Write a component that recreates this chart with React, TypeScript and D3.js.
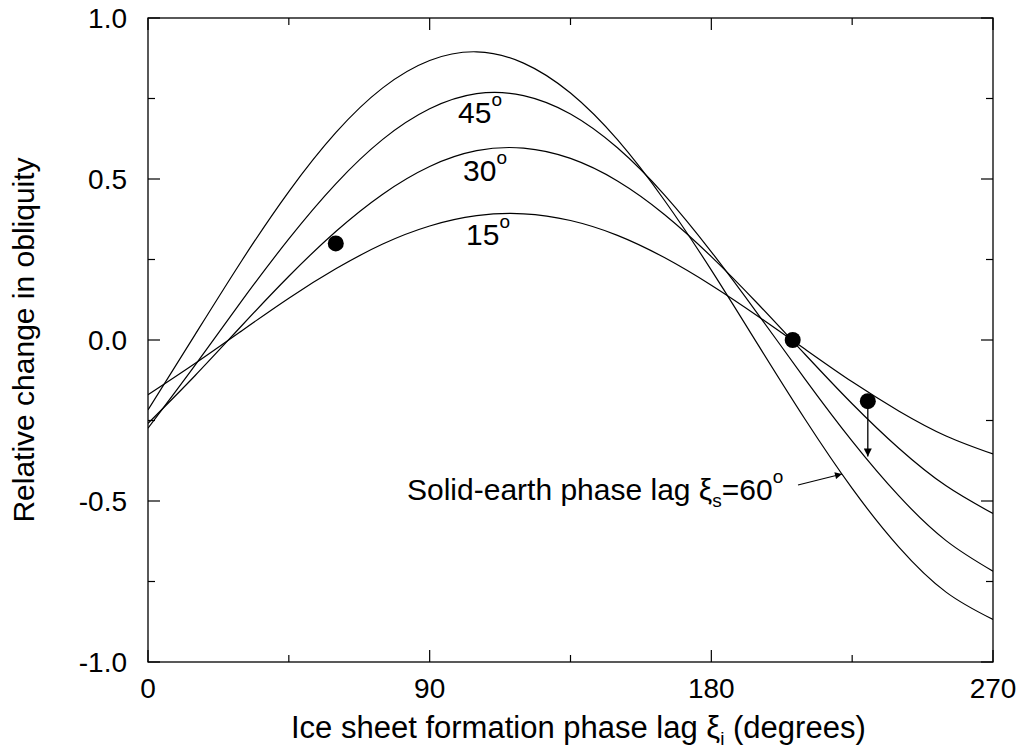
import React from "react";
import * as d3 from "d3";

// ---- data ----
const phaseLag = [0, 15, 30, 45, 60, 75, 90, 105, 120, 135, 150, 165, 180, 195, 210, 225, 240, 255, 270];
const lag15 = [-0.170, -0.073, 0.029, 0.130, 0.221, 0.298, 0.354, 0.386, 0.392, 0.371, 0.325, 0.256, 0.170, 0.073, -0.029, -0.130, -0.221, -0.298, -0.354];
const lag30 = [-0.259, -0.111, 0.045, 0.198, 0.337, 0.453, 0.539, 0.588, 0.596, 0.564, 0.494, 0.390, 0.259, 0.111, -0.045, -0.198, -0.337, -0.453, -0.539];
const lag45 = [-0.274, -0.079, 0.122, 0.314, 0.485, 0.623, 0.718, 0.765, 0.759, 0.702, 0.597, 0.451, 0.274, 0.079, -0.122, -0.314, -0.485, -0.623, -0.718];
const lag60 = [-0.217, 0.016, 0.247, 0.461, 0.644, 0.783, 0.868, 0.895, 0.860, 0.767, 0.622, 0.434, 0.217, -0.016, -0.247, -0.461, -0.644, -0.783, -0.868];
const seriesList = [lag15, lag30, lag45, lag60];

const obsX = [60, 206, 230];
const obsY = [0.3, 0.0, -0.19];

const xMajor = [0, 90, 180, 270];
const xMinor = [45, 135, 225];
const yMajor = [-1, -0.5, 0, 0.5, 1];
const yMinor = [-0.75, -0.25, 0.25, 0.75];

const W = 1022, H = 748;
const L = 148, R = 993, T = 18, B = 662;
const FONT = "'Liberation Sans', Arial, Helvetica, sans-serif";

export default function App() {
  const x = d3.scaleLinear().domain([0, 270]).range([L, R]);
  const y = d3.scaleLinear().domain([-1, 1]).range([B, T]);
  const line = d3
    .line<number>()
    .x((_, i) => x(phaseLag[i]))
    .y((d) => y(d))
    .curve(d3.curveNatural);

  const majorLen = 12, minorLen = 7;

  return (
    <svg
      width={W}
      height={H}
      viewBox={`0 0 ${W} ${H}`}
      style={{ position: "absolute", left: 0, top: 0, display: "block", background: "#fff" }}
      fontFamily={FONT}
    >
      <defs>
        <clipPath id="plot">
          <rect x={L} y={T} width={R - L} height={B - T} />
        </clipPath>
        <marker id="ah1" viewBox="0 0 10 10" refX="10" refY="5" markerWidth="9" markerHeight="8" markerUnits="userSpaceOnUse" orient="auto">
          <path d="M0,0 L10,5 L0,10 Z" fill="#000" />
        </marker>
        <marker id="ah2" viewBox="0 0 10 10" refX="10" refY="5" markerWidth="11" markerHeight="7" markerUnits="userSpaceOnUse" orient="auto">
          <path d="M0,0 L10,5 L0,10 Z" fill="#000" />
        </marker>
      </defs>

      {/* curves */}
      <g clipPath="url(#plot)">
        {seriesList.map((s, i) => (
          <path key={i} d={line(s) || ""} fill="none" stroke="#000" strokeWidth={1.2} />
        ))}
      </g>

      {/* frame */}
      <rect x={L} y={T} width={R - L} height={B - T} fill="none" stroke="#000" strokeWidth={1.3} />

      {/* x ticks (bottom & top, inward) */}
      {xMajor.map((v) => (
        <g key={"xm" + v}>
          <line x1={x(v)} x2={x(v)} y1={B} y2={B - majorLen} stroke="#000" strokeWidth={1.2} />
          <line x1={x(v)} x2={x(v)} y1={T} y2={T + majorLen} stroke="#000" strokeWidth={1.2} />
          <text x={x(v)} y={698} fontSize={28} textAnchor="middle" fill="#000">
            {String(v)}
          </text>
        </g>
      ))}
      {xMinor.map((v) => (
        <g key={"xn" + v}>
          <line x1={x(v)} x2={x(v)} y1={B} y2={B - minorLen} stroke="#000" strokeWidth={1.2} />
          <line x1={x(v)} x2={x(v)} y1={T} y2={T + minorLen} stroke="#000" strokeWidth={1.2} />
        </g>
      ))}

      {/* y ticks (left & right, inward) */}
      {yMajor.map((v) => (
        <g key={"ym" + v}>
          <line x1={L} x2={L + majorLen} y1={y(v)} y2={y(v)} stroke="#000" strokeWidth={1.2} />
          <line x1={R} x2={R - majorLen} y1={y(v)} y2={y(v)} stroke="#000" strokeWidth={1.2} />
          <text x={127} y={y(v) + 10} fontSize={28} textAnchor="end" fill="#000">
            {v.toFixed(1)}
          </text>
        </g>
      ))}
      {yMinor.map((v) => (
        <g key={"yn" + v}>
          <line x1={L} x2={L + minorLen} y1={y(v)} y2={y(v)} stroke="#000" strokeWidth={1.2} />
          <line x1={R} x2={R - minorLen} y1={y(v)} y2={y(v)} stroke="#000" strokeWidth={1.2} />
        </g>
      ))}

      {/* axis titles */}
      <text x={291} y={738} fontSize={31} fill="#000">
        Ice sheet formation phase lag ξ
        <tspan fontSize={19} dy={7}>i</tspan>
        <tspan dy={-7}> (degrees)</tspan>
      </text>
      <text transform={`translate(34,${(T + B) / 2}) rotate(-90)`} fontSize={30} textAnchor="middle" fill="#000">
        Relative change in obliquity
      </text>

      {/* curve labels */}
      <text x={458} y={123} fontSize={30} fill="#000">
        45<tspan fontSize={19} dy={-17}>o</tspan>
      </text>
      <text x={463} y={181} fontSize={30} fill="#000">
        30<tspan fontSize={19} dy={-17}>o</tspan>
      </text>
      <text x={466} y={245} fontSize={30} fill="#000">
        15<tspan fontSize={19} dy={-17}>o</tspan>
      </text>

      {/* observations */}
      {obsX.map((v, i) => (
        <circle key={"o" + i} cx={x(v)} cy={y(obsY[i])} r={8} fill="#000" />
      ))}
      {/* downward arrow from last observation */}
      <line
        x1={x(obsX[2])}
        y1={y(obsY[2])}
        x2={x(obsX[2])}
        y2={y(-0.362)}
        stroke="#000"
        strokeWidth={1.3}
        markerEnd="url(#ah1)"
      />

      {/* solid-earth label + arrow */}
      <text x={407} y={500} fontSize={30} fill="#000">
        Solid-earth phase lag ξ
        <tspan fontSize={19} dy={7}>s</tspan>
        <tspan dy={-7}>=60</tspan>
        <tspan fontSize={19} dy={-17}>o</tspan>
      </text>
      <line x1={798} y1={485} x2={842} y2={474} stroke="#000" strokeWidth={1.2} markerEnd="url(#ah2)" />
    </svg>
  );
}
